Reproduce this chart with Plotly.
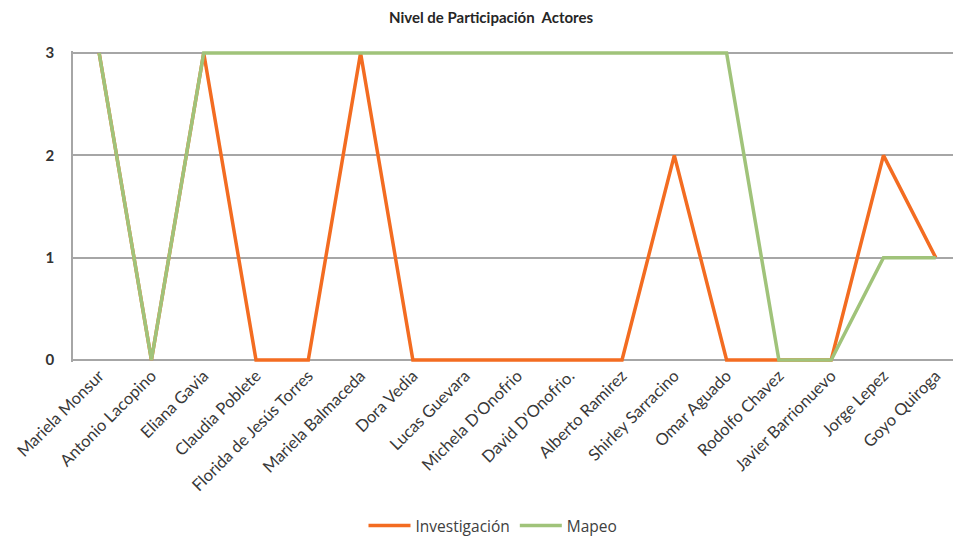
import plotly.graph_objects as go

categories = ["Mariela Monsur", "Antonio Lacopino", "Eliana Gavia", "Claudia Poblete",
              "Florida de Jesús Torres", "Mariela Balmaceda", "Dora Vedia", "Lucas Guevara",
              "Michela D'Onofrio", "David D'Onofrio.", "Alberto Ramirez", "Shirley Sarracino",
              "Omar Aguado", "Rodolfo Chavez", "Javier Barrionuevo", "Jorge Lepez", "Goyo Quiroga"]
investigacion = [3, 0, 3, 0, 0, 3, 0, 0, 0, 0, 0, 2, 0, 0, 0, 2, 1]
mapeo = [3, 0, 3, 3, 3, 3, 3, 3, 3, 3, 3, 3, 3, 0, 0, 1, 1]
y_ticks = [0, 1, 2, 3]

fig = go.Figure()
fig.add_trace(go.Scatter(x=categories, y=investigacion, mode="lines", name="Investigación",
                         line=dict(color="#F36C21", width=3.5)))
fig.add_trace(go.Scatter(x=categories, y=mapeo, mode="lines", name="Mapeo",
                         line=dict(color="#A0C37A", width=3.5)))

fig.update_layout(
    width=953, height=543,
    margin=dict(l=73, r=0, t=51, b=181),
    paper_bgcolor="white", plot_bgcolor="white",
    font=dict(family="Lato", color="#404040"),
    title=dict(text="<b>Nivel de Participación  Actores</b>", x=491/953, xref="container",
               xanchor="center", y=0.967, yanchor="middle",
               font=dict(family="Lato", size=15, color="#262626")),
    showlegend=True,
    legend=dict(orientation="h", x=493/953, xanchor="center", xref="container",
                y=-0.012, yref="container", yanchor="bottom",
                font=dict(family="Open Sans", size=15.5, color="#404040"),
                tracegroupgap=0, itemwidth=42),
    xaxis=dict(type="category", range=[-0.5, 16.33], showgrid=False, zeroline=False,
               showline=False, tickangle=-45, ticks="",
               tickfont=dict(family="Lato", size=16.5, color="#383838")),
    yaxis=dict(range=[-0.02, 3.02], tickvals=y_ticks, showgrid=True, gridcolor="#A6A6A6",
               gridwidth=1.5, zeroline=False, showline=True, linecolor="#A6A6A6", linewidth=1.5,
               ticks="", ticklabelstandoff=14,
               tickfont=dict(family="Lato", size=15, color="#333333", weight="bold")),
)

fig.write_html("out.html")
